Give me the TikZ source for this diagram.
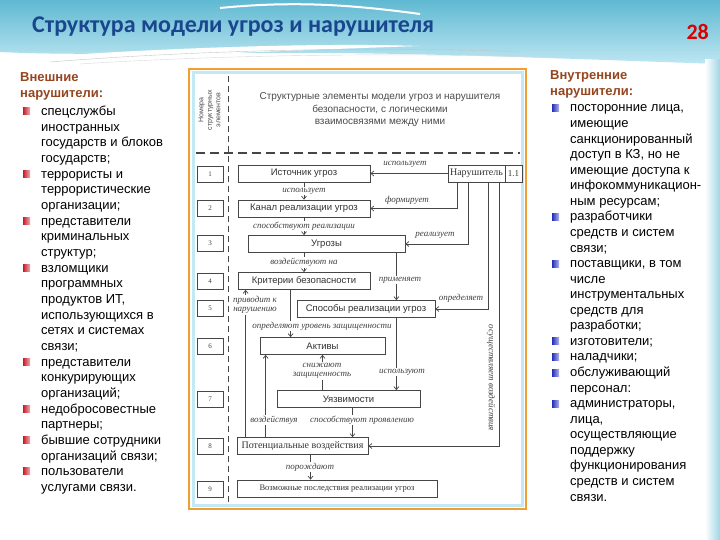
\documentclass[tikz,border=0pt]{standalone}
\usepackage{fontspec}
\setmainfont{Liberation Sans}
\newfontfamily\titlefont{Carlito}
\newfontfamily\timesfont{Liberation Serif}
\usepackage{tikz}
\usetikzlibrary{arrows.meta}
\usetikzlibrary{calc}

\definecolor{titleblue}{RGB}{25,70,140}
\definecolor{headbrown}{RGB}{150,70,30}
\definecolor{bulletred}{RGB}{200,25,40}
\definecolor{bulletblue}{RGB}{35,45,185}
\definecolor{frameorange}{RGB}{240,160,50}
\definecolor{framecyan}{RGB}{195,234,244}
\definecolor{bandteal}{RGB}{95,185,210}
\definecolor{bandlight}{RGB}{190,230,242}
\definecolor{linegray}{RGB}{70,70,70}

\tikzstyle{elem} = [draw=linegray, line width=0.8pt, fill=white, minimum height=17pt, inner sep=0pt, text=black!80, font=\fontsize{9.5}{10}\selectfont]
\tikzstyle{numbox} = [draw=linegray, line width=0.7pt, minimum width=26pt, minimum height=16pt, inner sep=0pt, text=black!75, font=\timesfont\fontsize{7}{8}\selectfont]
\tikzstyle{lbl} = [inner sep=1pt, text=black!75, font=\timesfont\itshape\fontsize{9}{9.5}\selectfont]
\tikzstyle{arr} = [draw=linegray, line width=0.7pt, -{Straight Barb[length=3pt,width=5pt]}]
\tikzstyle{sidetext} = [anchor=base west, inner sep=0pt, font=\fontsize{13}{15}\selectfont]

\begin{document}
\begin{tikzpicture}[x=1pt, y=-1pt]
	\useasboundingbox (0,0) rectangle (720,540);
	\fill[white] (0,0) rectangle (720,540);
	% slide background
	\shade[top color=bandteal, bottom color=bandlight] (0,0) -- (720,0) -- (720,64) .. controls (600,60) and (460,54) .. (330,53) .. controls (200,52) and (80,56) .. (0,52) -- cycle;
	\fill[white] (0,60) .. controls (120,50) and (300,42) .. (420,46) .. controls (300,50) and (150,56) .. (60,62) -- cycle;
	\draw[white, line width=2pt] (220,8) .. controls (300,0) and (360,6) .. (420,14);
	\draw[gray!45] (50,62) .. controls (200,50) and (380,46) .. (520,52);
	\draw[gray!30] (80,64) .. controls (220,55) and (400,52) .. (560,58);
	\shade[left color=white, right color=bandteal!60] (705,60) rectangle (720,540);
	\node[anchor=base west, inner sep=0pt, text=titleblue, font=\titlefont\bfseries\fontsize{24}{26}\selectfont] (title) at (32,33) {Структура модели угроз и нарушителя};
	\node[anchor=base east, inner sep=0pt, text=red!85!black, font=\titlefont\bfseries\fontsize{22}{24}\selectfont] (page) at (709,40) {28};

	% left column
	\node[sidetext, text=headbrown, font=\bfseries\fontsize{13}{15}\selectfont] (exth1) at (20,82) {Внешние};
	\node[sidetext, text=headbrown, font=\bfseries\fontsize{13}{15}\selectfont] (exth2) at (20,97.5) {нарушители:};
	\foreach \t [count=\i from 0] in {спецслужбы, иностранных, государств и блоков, государств;, террористы и, террористические, организации;, представители, криминальных, структур;, взломщики, программных, {продуктов ИТ,}, использующихся в, сетях и системах, связи;, представители, конкурирующих, организаций;, недобросовестные, партнеры;, бывшие сотрудники, организаций связи;, пользователи, услугами связи.}
		\node[sidetext] (ext\i) at (41,{115.5+15.67*\i}) {\t};
	\foreach \i in {0,4,7,10,16,19,21,23}
		\shade[left color=bulletred, right color=bulletred!35] (23,{107.5+15.67*\i}) rectangle ++(7,7);

	% right column
	\node[sidetext, text=headbrown, font=\bfseries\fontsize{13}{15}\selectfont] (inth1) at (550,80) {Внутренние};
	\node[sidetext, text=headbrown, font=\bfseries\fontsize{13}{15}\selectfont] (inth2) at (550,95.5) {нарушители:};
	\foreach \t [count=\i from 0] in {{посторонние лица,}, имеющие, санкционированный, {доступ в КЗ, но не}, имеющие доступа к, инфокоммуникацион-, ным ресурсам;, разработчики, средств и систем, связи;, {поставщики, в том}, числе, инструментальных, средств для, разработки;, изготовители;, наладчики;, обслуживающий, персонал:, {администраторы,}, {лица,}, осуществляющие, поддержку, функционирования, средств и систем, связи.}
		\node[sidetext] (int\i) at (570,{112+15.56*\i}) {\t};
	\foreach \i in {0,7,10,15,16,17,19}
		\shade[left color=bulletblue, right color=bulletblue!35] (552,{104.5+15.56*\i}) rectangle ++(7,7);

	% picture frame
	\draw[frameorange, line width=2.5pt, fill=white] (189,69) rectangle (526,509);
	\draw[framecyan, line width=3pt] (193,73) rectangle (522,505);
	\draw[linegray, line width=0.8pt, dash pattern=on 6pt off 4pt] (228,76) -- (228,503);
	\draw[linegray, line width=1.2pt, dash pattern=on 9pt off 5pt] (196,153) -- (520,153);
	\node[rotate=90, align=center, inner sep=0pt, text=black!70, font=\fontsize{7}{8.5}\selectfont] (numhead) at (209.5,110) {Номера\\структурных\\элементов};
	\node[align=center, inner sep=0pt, text=black!70, font=\fontsize{10}{12.5}\selectfont] (head) at (380,110) {Структурные элементы модели угроз и нарушителя\\безопасности, с логическими\\взаимосвязями между ними};

	\foreach \n/\y in {1/174, 2/208, 3/243, 4/281, 5/308, 6/346, 7/399, 8/446, 9/489}
		\node[numbox] (num\n) at (210,\y) {\n};

	\node[elem, minimum width=132pt] (ist) at (304,173.5) {Источник угроз};
	\node[elem, minimum width=132pt] (kan) at (304,208.5) {Канал реализации угроз};
	\node[elem, minimum width=157pt] (ugr) at (326.5,244) {Угрозы};
	\node[elem, minimum width=132pt] (krit) at (304,281) {Критерии безопасности};
	\node[elem, minimum width=138pt] (spos) at (366,309) {Способы реализации угроз};
	\node[elem, minimum width=125pt] (akt) at (322.5,346) {Активы};
	\node[elem, minimum width=143pt] (uyaz) at (348.5,399) {Уязвимости};
	\node[elem, minimum width=131pt, font=\timesfont\fontsize{10}{11}\selectfont] (pot) at (302.5,446) {Потенциальные воздействия};
	\node[elem, minimum width=200pt, font=\timesfont\fontsize{8.5}{10}\selectfont] (posl) at (337,488.5) {Возможные последствия реализации угроз};
	\node[elem, minimum width=57pt, font=\timesfont\fontsize{10}{11}\selectfont] (nar) at (476.5,173.5) {Нарушитель};
	\node[elem, minimum width=17pt, font=\timesfont\fontsize{9}{10}\selectfont] (n11) at (513.5,173.5) {1.1};

	% links
	\draw[arr] (nar.west) -- (ist.east);
	\node[lbl] (l1) at (405,164) {использует};
	\draw[arr] (ist.south) -- node[lbl, fill=white] (l2) {использует} (kan.north);
	\coordinate (c3) at ([xshift=10pt]nar.south west);
	\draw[arr] (c3) |- (kan.east);
	\node[lbl] (l3) at (407,200) {формирует};
	\draw[arr] (kan.south) -- node[lbl, fill=white] (l4) {способствуют реализации} (kan.south |- ugr.north);
	\coordinate (c5) at ([xshift=21pt]nar.south west);
	\draw[arr] (c5) |- (ugr.east);
	\node[lbl] (l5) at (435,235) {реализует};
	\draw[arr] (krit.north |- ugr.south) -- node[lbl, fill=white] (l6) {воздействуют на} (krit.north);
	\coordinate (c7) at ([xshift=-9pt]ugr.south east);
	\draw[arr] (c7) -- (c7 |- spos.north);
	\node[lbl, fill=white] (l7) at (400,280) {применяет};
	\coordinate (c8) at ([xshift=41pt]nar.south west);
	\draw[arr] (c8) |- (spos.east);
	\node[lbl] (l8) at (461,298) {определяет};
	\coordinate (c9) at ([xshift=52pt]nar.south west);
	\draw[arr] (c9) |- (pot.east);
	\node[lbl, rotate=-90] (l9) at (491,378) {осуществляет воздействия};
	\coordinate (c10) at ([xshift=53pt]krit.south west);
	\draw[arr] (c10) -- (c10 |- akt.north);
	\node[lbl, fill=white] (l10) at (322,326) {определяют уровень защищенности};
	\coordinate (c11) at ([xshift=9pt]pot.north west);
	\draw[arr] (c11) -- (c11 |- krit.south);
	\node[lbl, fill=white, align=center] (l11) at (255,305) {приводит к\\нарушению};
	\coordinate (c12) at ([xshift=29pt]pot.north west);
	\draw[arr] (c12) -- (c12 |- akt.south);
	\node[lbl, fill=white] (l12) at (274,420) {воздействуя};
	\draw[arr] (akt.south |- uyaz.north) -- (akt.south);
	\node[lbl, fill=white, align=center] (l13) at (322,371) {снижают\\защищенность};
	\coordinate (c14) at ([xshift=-39pt]spos.south east);
	\draw[arr] (c14) -- (c14 |- uyaz.north);
	\node[lbl, fill=white] (l14) at (402,372) {используют};
	\coordinate (c15) at ([xshift=4pt]uyaz.south);
	\draw[arr] (c15) -- (c15 |- pot.north);
	\node[lbl, fill=white] (l15) at (362,420) {способствуют проявлению};
	\coordinate (c16) at ([xshift=8pt]pot.south);
	\draw[arr] (c16) -- (c16 |- posl.north);
	\node[lbl, fill=white] (l16) at (310,467) {порождают};
\end{tikzpicture}
\end{document}
